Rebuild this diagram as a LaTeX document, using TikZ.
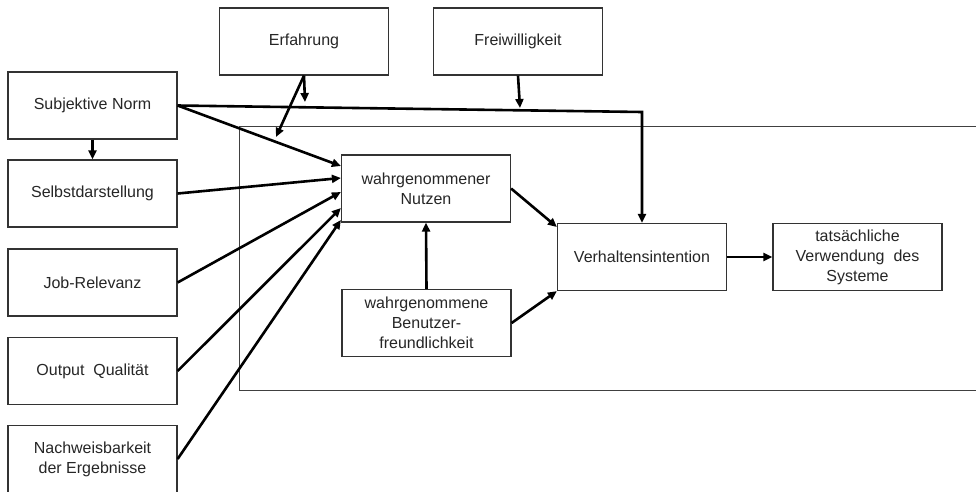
\documentclass[tikz,border=0pt]{standalone}
\usepackage{fontspec}
\setmainfont{Liberation Sans}
\usetikzlibrary{arrows.meta}
\begin{document}
\begin{tikzpicture}[x=1pt,y=-1pt,
  box/.style={draw=black!80, fill=white, line width=1.2pt, rectangle, minimum width=169pt, minimum height=67pt, align=center, inner sep=2pt, font=\fontsize{16}{20}\selectfont, text=black!85},
  conn/.style={line width=2.6pt, -{Triangle[length=9pt,width=8pt]}},
  frame/.style={line width=0.9pt, draw=black!75}]
\useasboundingbox (0,0) rectangle (976,491);
\clip (0,0) rectangle (976,491);
% frame
\draw[frame] (239,126) rectangle (1000,390);
% nodes
\node[box] (sn) at (92.5,105.5) {Subjektive Norm};
\node[box] (sel) at (92.5,193.5) {Selbstdarstellung};
\node[box] (job) at (92.5,282.5) {Job-Relevanz};
\node[box] (out) at (92.5,371) {Output\ \ Qualität};
\node[box] (nach) at (92.5,459) {Nachweisbarkeit\\der Ergebnisse};
\node[box] (erf) at (304,41.5) {Erfahrung};
\node[box] (frei) at (518,41.5) {Freiwilligkeit};
\node[box] (nutzen) at (426,188.5) {wahrgenommener\\Nutzen};
\node[box] (verh) at (642,257) {Verhaltensintention};
\node[box] (tats) at (857.5,257) {tatsächliche\\Verwendung\ \ des\\Systeme};
\node[box] (benu) at (426.5,323) {wahrgenommene\\Benutzer-\\freundlichkeit};
% free ends
\coordinate (e1) at (305,102);
\coordinate (e2) at (276,137);
\coordinate (f1) at (520,108);
\coordinate (c1) at (642,112);
% connectors
\draw[conn] (sn.south) -- (sel.north);
\draw[conn] (sn.east) -- ([yshift=22.5pt]nutzen.west);
\draw[conn] (sn.east) -- (c1) -- (verh.north);
\draw[conn] (erf.south) -- (e1);
\draw[conn] (erf.south) -- (e2);
\draw[conn] (frei.south) -- (f1);
\draw[conn] (sel.east) -- ([yshift=10.5pt]nutzen.west);
\draw[conn] (job.east) -- ([yshift=-3.5pt]nutzen.west);
\draw[conn] (out.east) -- ([yshift=-19.5pt]nutzen.west);
\draw[conn] (nach.east) -- ([yshift=-31.5pt]nutzen.west);
\draw[conn] (benu.north) -- (nutzen.south);
\draw[conn] (nutzen.east) -- ([yshift=30pt]verh.west);
\draw[conn] (benu.east) -- (verh.south west);
\draw[conn] (verh.east) -- (tats.west);
\end{tikzpicture}
\end{document}
